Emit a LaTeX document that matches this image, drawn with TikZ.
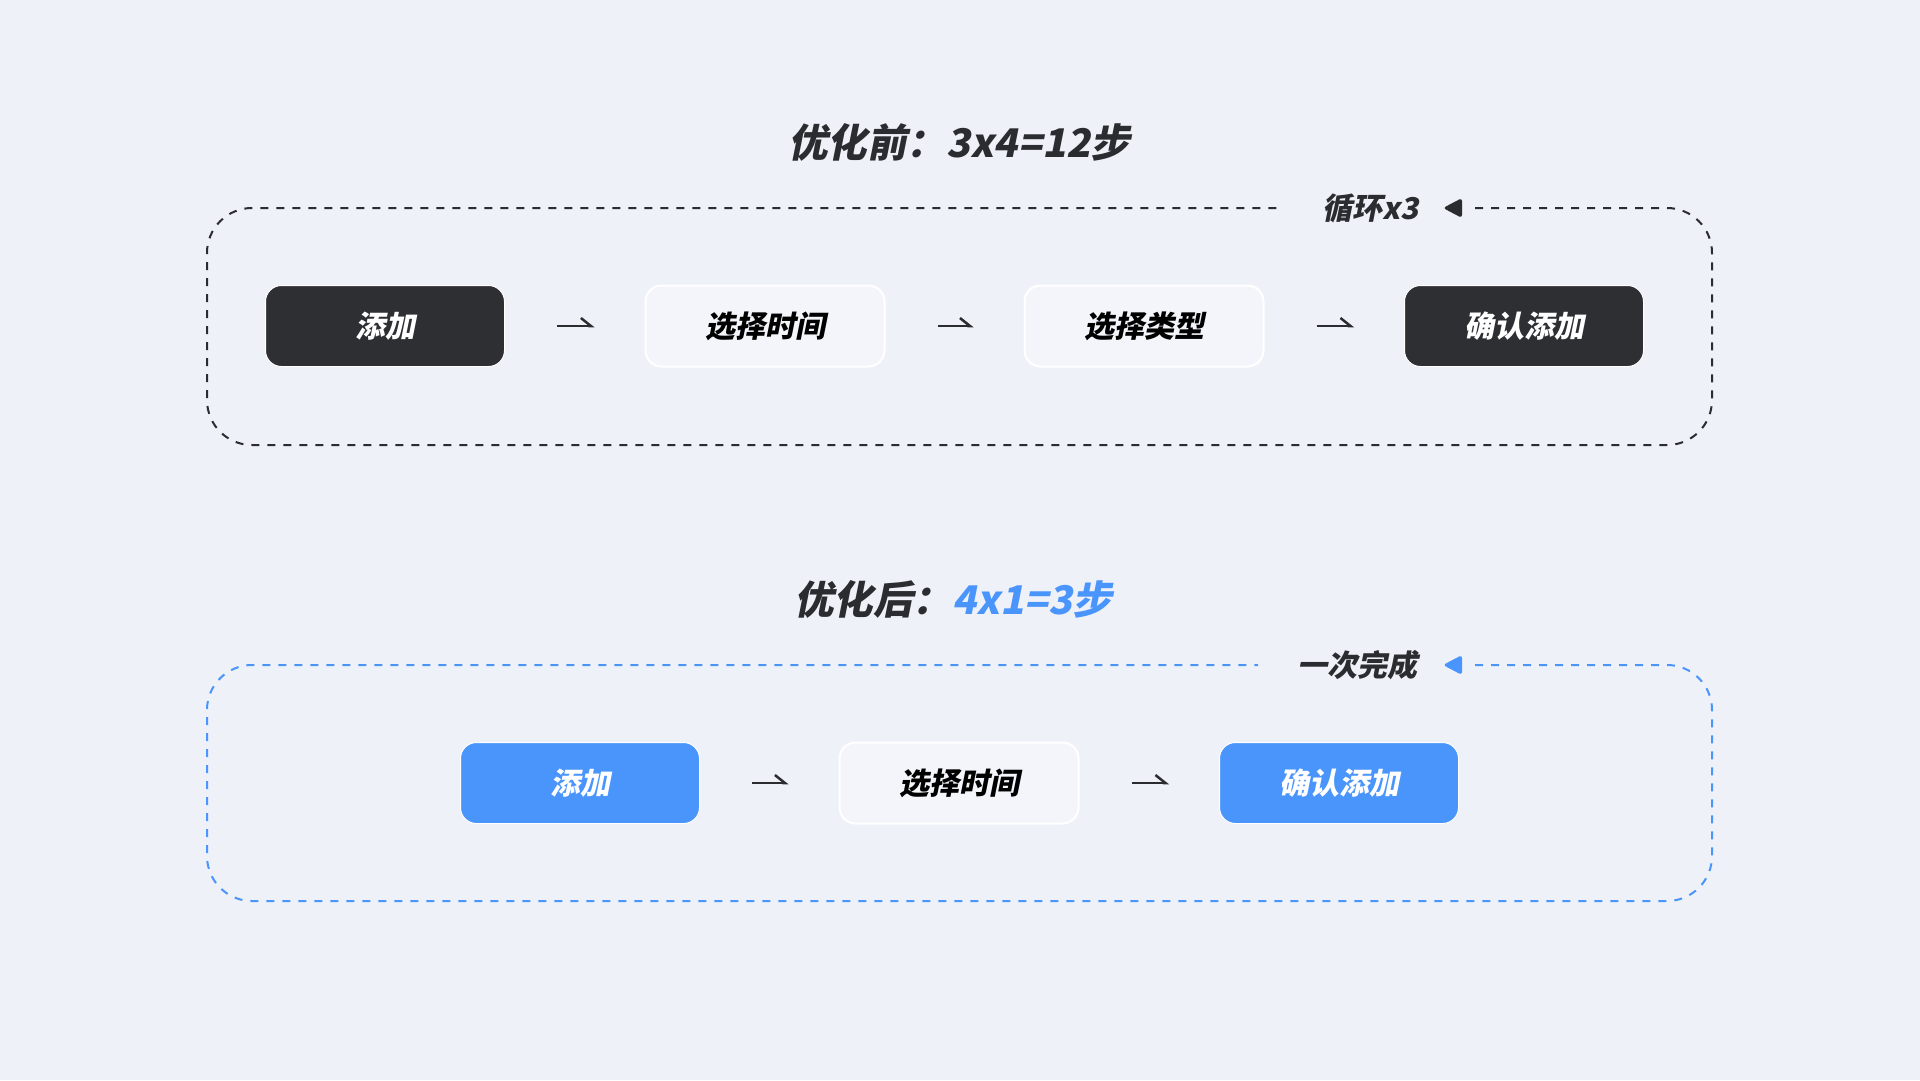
\documentclass[tikz,border=0pt]{standalone}
\usepackage{fontspec}
\newfontfamily\cjk[FakeSlant=0.2]{Noto Sans CJK SC}
\usetikzlibrary{arrows.meta}
\definecolor{bg}{HTML}{EEF1F8}
\definecolor{darkbox}{HTML}{2E2F33}
\definecolor{lightbox}{HTML}{F4F5FA}
\definecolor{blueC}{HTML}{4A95FC}
\definecolor{ink}{HTML}{2B2C30}
\begin{document}
\begin{tikzpicture}[x=1pt,y=-1pt,
 box/.style={rounded corners=16pt, minimum width=239pt, minimum height=81pt, inner sep=0pt, font=\cjk\bfseries\fontsize{30}{33}\selectfont},
 darkstep/.style={box, fill=darkbox, draw=white, line width=1pt, text=white},
 lightstep/.style={box, fill=lightbox, draw=white, line width=2pt, text=black},
 bluestep/.style={box, fill=blueC, draw=white, line width=1pt, text=white},
 flow/.style={line width=2.5pt, draw=ink, -{Straight Barb[harpoon,length=10pt,width=16pt,line width=2.5pt]}, shorten <=52pt, shorten >=50pt},
 loopline/.style={dash pattern=on 8pt off 8pt, line width=2pt, rounded corners=45pt},
 title/.style={font=\cjk\bfseries\fontsize{39.5}{42}\selectfont, text=ink, inner sep=0pt},
 tag/.style={font=\cjk\bfseries\fontsize{30}{33}\selectfont, text=ink, inner sep=0pt}
]
\fill[bg] (0,0) rectangle (1920,1080);

% ---------- before ----------
\node[title] (t1) at (959,142) {优化前：3x4=12步};
\draw[loopline, draw=ink] (1475,208) -- (1712,208) -- (1712,445) -- (207,445) -- (207,208) -- (1280,208);
\node[tag] (l1) at (1371,208) {循环x3};
\fill[ink, rounded corners=3pt] (1443,208) -- (1462,198) -- (1462,218) -- cycle;

\node[darkstep]  (a1) at (385,326)  {添加};
\node[lightstep] (a2) at (765,326)  {选择时间};
\node[lightstep] (a3) at (1144,326) {选择类型};
\node[darkstep]  (a4) at (1524,326) {确认添加};
\draw[flow] (a1) -- (a2);
\draw[flow] (a2) -- (a3);
\draw[flow] (a3) -- (a4);

% ---------- after ----------
\node[title] (t2) at (953,599) {优化后：\textcolor{blueC}{4x1=3步}};
\draw[loopline, draw=blueC] (1475,665) -- (1712,665) -- (1712,901) -- (207,901) -- (207,665) -- (1258,665);
\node[tag] (l2) at (1357,665) {一次完成};
\fill[blueC, rounded corners=3pt] (1443,665) -- (1462,655) -- (1462,675) -- cycle;

\node[bluestep]  (b1) at (580,783)  {添加};
\node[lightstep] (b2) at (959,783)  {选择时间};
\node[bluestep]  (b3) at (1339,783) {确认添加};
\draw[flow] (b1) -- (b2);
\draw[flow] (b2) -- (b3);
\end{tikzpicture}
\end{document}
